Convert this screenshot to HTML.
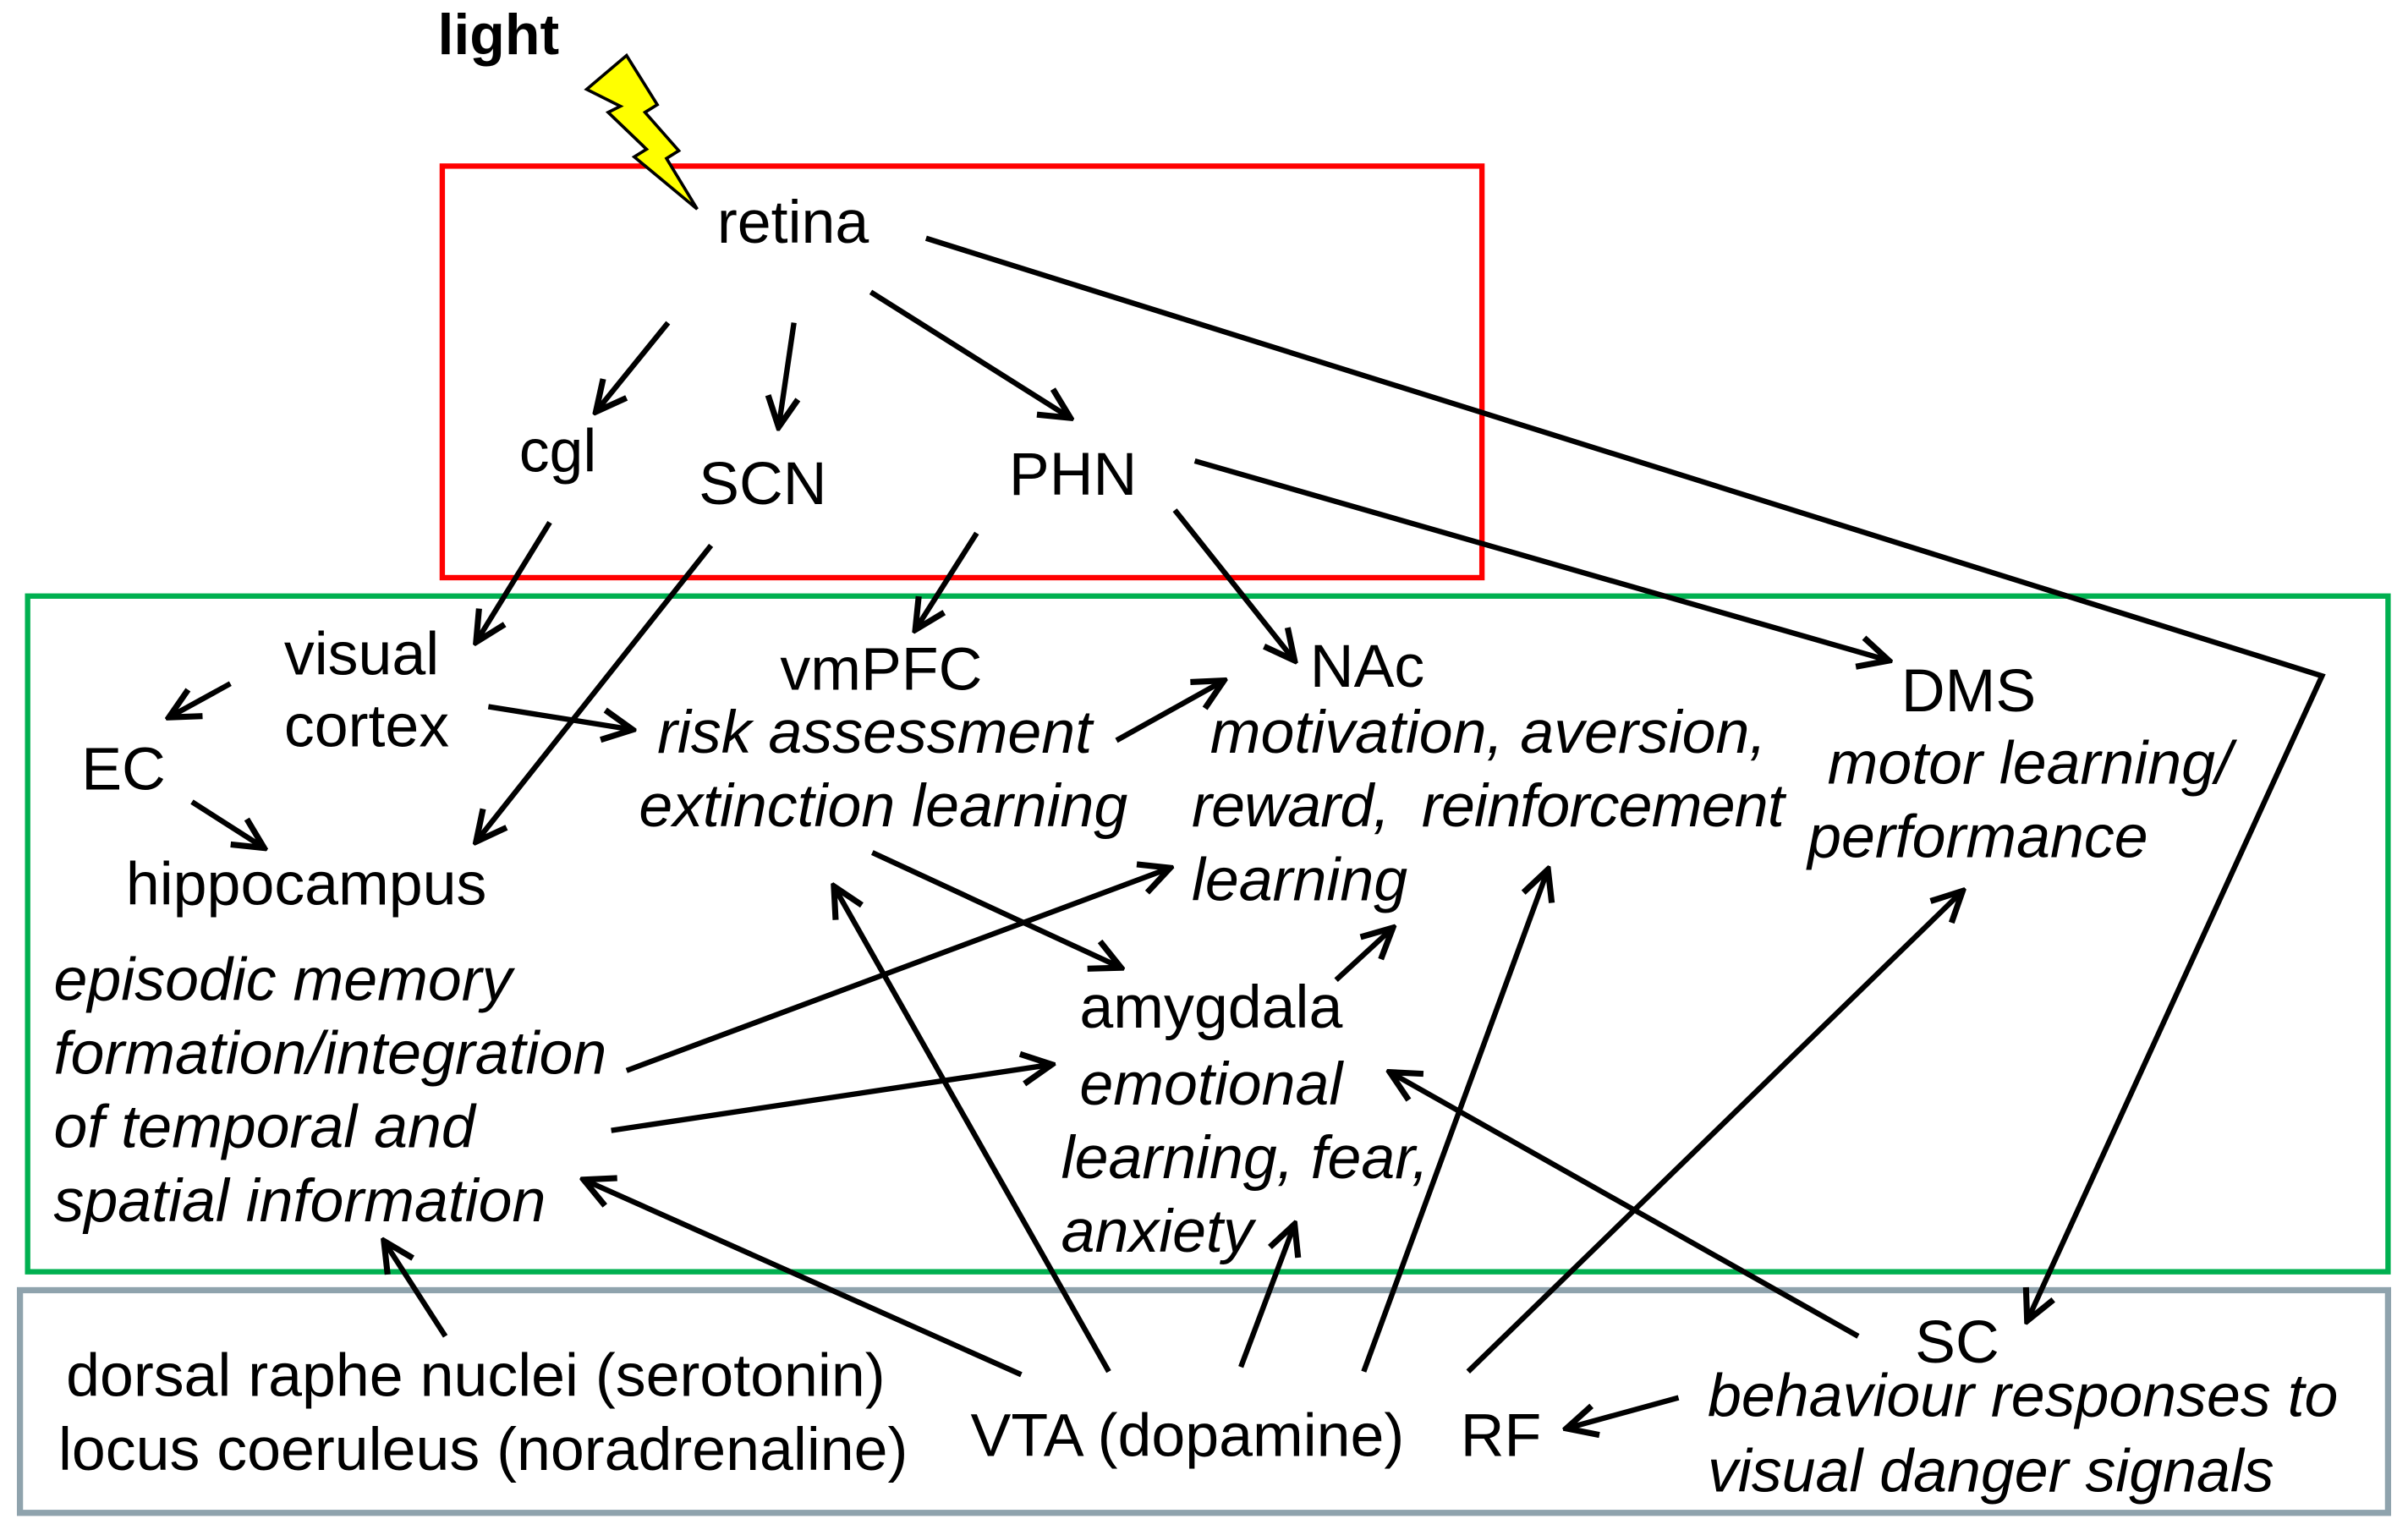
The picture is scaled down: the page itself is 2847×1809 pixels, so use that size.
<!DOCTYPE html>
<html><head><meta charset="utf-8"><style>
html,body{margin:0;padding:0;background:#fff;}
svg{display:block;}
text{font-family:"Liberation Sans",Arial,sans-serif;font-size:39.5px;fill:#000;}
.i{font-style:italic;}
</style></head><body>
<svg width="2847" height="1809" viewBox="0 0 1568 996" xmlns="http://www.w3.org/2000/svg">
<defs>
<marker id="a" viewBox="0 0 20 20" refX="18" refY="10" markerWidth="7" markerHeight="7" orient="auto" markerUnits="strokeWidth">
<path d="M2,2 L18,10 L2,18" fill="none" stroke="#000" stroke-width="3.2" stroke-linejoin="miter"/>
</marker>
</defs>
<rect x="288" y="108" width="677" height="268" fill="none" stroke="#ff0000" stroke-width="3.5"/>
<rect x="18" y="388" width="1537" height="440" fill="none" stroke="#00b050" stroke-width="3.5"/>
<rect x="13" y="840" width="1542" height="145" fill="none" stroke="#8fa3ad" stroke-width="4"/>
<text x="285" y="35" font-weight="bold" style="font-size:37.5px">light</text>
<polygon points="382,58 408,36 428,68 420,73 442,98 434,103 454,136 413,102 421,97 396,73 404,69" fill="#ffff00" stroke="#000" stroke-width="2"/>
<g fill="none" stroke="#000" stroke-width="3.5" marker-end="url(#a)">
<line x1="435" y1="210" x2="388" y2="268"/>
<line x1="517" y1="210" x2="507" y2="278"/>
<line x1="567" y1="190" x2="697" y2="272"/>
<polyline points="603,155 1512,440 1320,860"/>
<line x1="358" y1="340" x2="310" y2="418"/>
<line x1="463" y1="355" x2="310" y2="548"/>
<line x1="636" y1="347" x2="596" y2="410"/>
<line x1="765" y1="332" x2="843" y2="430"/>
<line x1="778" y1="300" x2="1230" y2="430"/>
<line x1="150" y1="445" x2="110" y2="467"/>
<line x1="125" y1="522" x2="172" y2="552"/>
<line x1="318" y1="460" x2="412" y2="475"/>
<line x1="727" y1="482" x2="797" y2="443"/>
<line x1="568" y1="555" x2="730" y2="630"/>
<line x1="408" y1="697" x2="762" y2="565"/>
<line x1="398" y1="736" x2="685" y2="693"/>
<line x1="870" y1="638" x2="907" y2="604"/>
<line x1="290" y1="870" x2="250" y2="808"/>
<line x1="665" y1="895" x2="380" y2="768"/>
<line x1="722" y1="893" x2="543" y2="577"/>
<line x1="808" y1="890" x2="843" y2="797"/>
<line x1="888" y1="893" x2="1008" y2="566"/>
<line x1="956" y1="893" x2="1278" y2="580"/>
<line x1="1210" y1="870" x2="905" y2="698"/>
<line x1="1093" y1="910" x2="1020" y2="930"/>
</g>
<text x="467" y="158">retina</text>
<text x="338" y="307">cgl</text>
<text x="455" y="328">SCN</text>
<text x="657" y="322">PHN</text>
<text x="185" y="439">visual</text>
<text x="185" y="486">cortex</text>
<text x="53" y="514">EC</text>
<text x="82" y="589">hippocampus</text>
<text x="508" y="449">vmPFC</text>
<text class="i" x="428" y="490">risk assessment</text>
<text class="i" x="416" y="538">extinction learning</text>
<text x="853" y="447">NAc</text>
<text class="i" x="788" y="490">motivation, aversion,</text>
<text class="i" x="776" y="538" textLength="386" style="white-space:pre">reward,  reinforcement</text>
<text class="i" x="776" y="586">learning</text>
<text x="1238" y="463">DMS</text>
<text class="i" x="1190" y="510">motor learning/</text>
<text class="i" x="1177" y="558">performance</text>
<text class="i" x="35" y="651">episodic memory</text>
<text class="i" x="35" y="699">formation/integration</text>
<text class="i" x="35" y="747">of temporal and</text>
<text class="i" x="35" y="795">spatial information</text>
<text x="703" y="669">amygdala</text>
<text class="i" x="703" y="719">emotional</text>
<text class="i" x="691" y="767">learning, fear,</text>
<text class="i" x="691" y="815">anxiety</text>
<text x="43" y="909">dorsal raphe nuclei (serotonin)</text>
<text x="38" y="957">locus coeruleus (noradrenaline)</text>
<text x="632" y="948">VTA (dopamine)</text>
<text x="951" y="948">RF</text>
<text x="1247" y="887">SC</text>
<text class="i" x="1112" y="922">behaviour responses to</text>
<text class="i" x="1112" y="971">visual danger signals</text>
</svg>
</body></html>
